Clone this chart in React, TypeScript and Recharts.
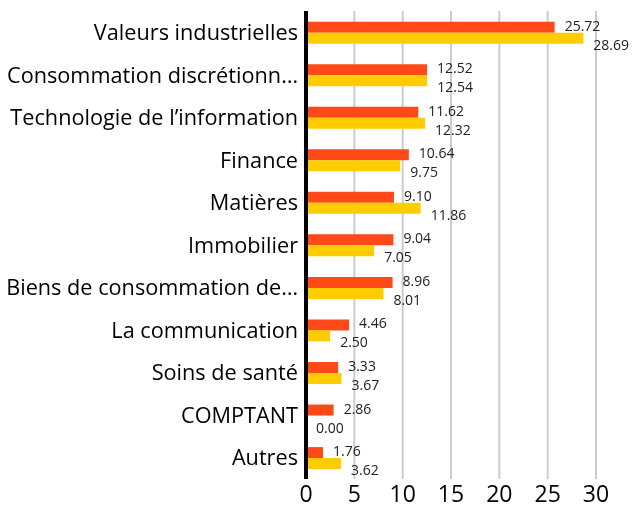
import { BarChart, Bar, XAxis, YAxis, CartesianGrid, LabelList } from "recharts";

const categories = [
  "Valeurs industrielles",
  "Consommation discrétionn…",
  "Technologie de l’information",
  "Finance",
  "Matières",
  "Immobilier",
  "Biens de consommation de…",
  "La communication",
  "Soins de santé",
  "COMPTANT",
  "Autres",
];
const fundValues = [25.72, 12.52, 11.62, 10.64, 9.1, 9.04, 8.96, 4.46, 3.33, 2.86, 1.76];
const benchValues = [28.69, 12.54, 12.32, 9.75, 11.86, 7.05, 8.01, 2.5, 3.67, 0.0, 3.62];
const xTicks = [0, 5, 10, 15, 20, 25, 30];

const data = categories.map((name, i) => ({
  name,
  fund: fundValues[i],
  bench: benchValues[i],
}));

const FONT = "'Open Sans', sans-serif";
const fmt = (v: any) => Number(v).toFixed(2);

// label drawn to the right of each bar, shifted up (fund) or down (bench)
const makeLabel = (dy: number) => (props: any) => {
  const { x, y, width, height, value } = props;
  return (
    <text
      x={Number(x) + Number(width) + 10}
      y={Number(y) + Number(height) / 2 + dy}
      dominantBaseline="central"
      fontSize={14}
      fill="#222"
      fontFamily={FONT}
    >
      {fmt(value)}
    </text>
  );
};

export default function App() {
  return (
    <div style={{ position: "fixed", left: 0, top: 0, fontFamily: FONT }}>
      <BarChart
        width={633}
        height={508}
        data={data}
        layout="vertical"
        margin={{ top: 11, right: 37, left: 0, bottom: 0 }}
        barGap={0}
        barCategoryGap="25%"
      >
        <CartesianGrid horizontal={false} stroke="#cccccc" strokeWidth={2} />
        <XAxis
          type="number"
          domain={[0, 30]}
          ticks={xTicks}
          axisLine={false}
          tickLine={false}
          tickSize={0}
          tickMargin={7}
          height={29}
          tick={{ fontSize: 23, fill: "#000", fontFamily: FONT }}
        />
        <YAxis
          type="category"
          dataKey="name"
          width={306}
          axisLine={{ stroke: "#000", strokeWidth: 4 }}
          tickLine={false}
          tickSize={0}
          tickMargin={8}
          interval={0}
          tick={{ fontSize: 21.7, fill: "#000", fontFamily: FONT }}
        />
        <Bar dataKey="fund" fill="#ff4a17" isAnimationActive={false}>
          <LabelList dataKey="fund" content={makeLabel(-2)} />
        </Bar>
        <Bar dataKey="bench" fill="#ffcc00" minPointSize={0.01} isAnimationActive={false}>
          <LabelList dataKey="bench" content={makeLabel(6)} />
        </Bar>
      </BarChart>
    </div>
  );
}
